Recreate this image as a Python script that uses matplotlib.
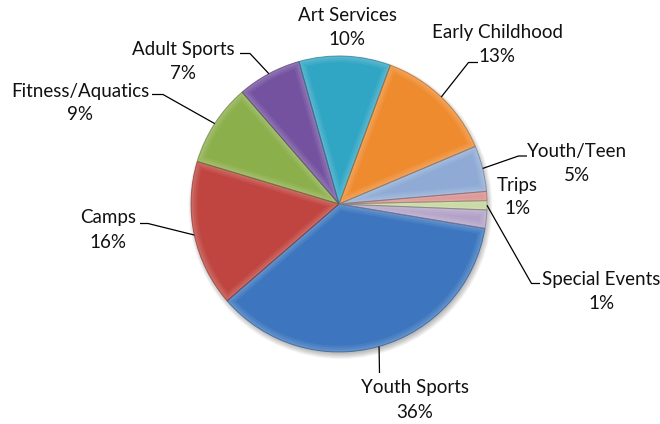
import numpy as np
import matplotlib
matplotlib.use("Agg")
import matplotlib.pyplot as plt
from matplotlib.patches import Wedge, Circle
from matplotlib.colors import to_rgb

# Program share of participants (%), clockwise from just below 3 o'clock
categories = ["Youth Sports", "Camps", "Fitness/Aquatics", "Adult Sports",
              "Art Services", "Early Childhood", "Youth/Teen", "Trips",
              "Special Events", "Other"]
shares = [36, 16, 9, 7, 10, 13, 5, 1, 1, 2]
show_label = [True, True, True, True, True, True, True, True, True, False]

colors = ["#3D76BE", "#C0443F", "#8BAF4B", "#7452A0", "#31A6C4",
          "#EF8B2F", "#8FABD5", "#DB8E8D", "#C3D79B", "#B3A2C7"]

W, H = 660, 424
CX, CY, R = 339, 204, 148
START = 99.5  # degrees clockwise from 12 o'clock


def px(x, y):
    # pixel (top-left origin) -> data coords
    return x, H - y


# label block centre and leader elbow points, in pixels
label_layout = {
    "Youth Sports": ((415, 400), [(379.5, 373)]),
    "Camps": ((108, 230), [(148, 223.5), (140, 223.5)]),
    "Fitness/Aquatics": ((80, 103), [(163, 94.5), (152, 94.5)]),
    "Adult Sports": ((183, 61.5), [(250, 53.5), (240, 53.5)]),
    "Art Services": ((347, 27.5), []),
    "Early Childhood": ((497, 44.5), [(468.5, 62.5), (478, 62.5)]),
    "Youth/Teen": ((576.5, 163.5), [(518.5, 156), (527, 156)]),
    "Trips": ((517.5, 197), []),
    "Special Events": ((601, 291.5), [(531.5, 283.5), (540, 283.5)]),
}

fig = plt.figure(figsize=(W / 100, H / 100), dpi=100)
ax = fig.add_axes([0, 0, 1, 1])

cx, cy = px(CX, CY)

# soft drop shadow under the pie
for i in range(8):
    ax.add_patch(Circle((cx + 1.5, cy - 3), R + 4 - i * 0.8,
                        facecolor="#000000", alpha=0.035, lw=0, zorder=1))

wedges, _ = ax.pie(shares, colors=colors, startangle=90 - START,
                   counterclock=False, center=(cx, cy), radius=R,
                   wedgeprops=dict(lw=0), frame=True)
ax.set_xlim(0, W)
ax.set_ylim(0, H)
ax.set_aspect("equal")
ax.axis("off")


def shade(c, f):
    r, g, b = to_rgb(c)
    if f > 0:
        return (r + (1 - r) * f, g + (1 - g) * f, b + (1 - b) * f)
    return (r * (1 + f), g * (1 + f), b * (1 + f))


# bevel: soft light rim on each wedge, darker seam at the boundary
for w, c in zip(wedges, colors):
    w.set_zorder(2)
    for lw, a in [(9, 0.12), (6, 0.15), (3, 0.2)]:
        rim = Wedge(w.center, w.r, w.theta1, w.theta2, facecolor="none",
                    edgecolor=shade(c, 0.5), lw=lw, alpha=a, zorder=3)
        ax.add_patch(rim)
        rim.set_clip_path(w)
    seam = Wedge(w.center, w.r, w.theta1, w.theta2, facecolor="none",
                 edgecolor=shade(c, -0.3), lw=0.7, alpha=0.6, zorder=4)
    ax.add_patch(seam)

text_kw = dict(ha="center", va="center", fontsize=13.5, color="#111111",
               family="Lato", linespacing=1.5, zorder=6)

total = sum(shares)
for name, val, w, show in zip(categories, shares, wedges, show_label):
    if not show:
        continue
    (tx, ty), elbow = label_layout[name]
    pct = round(100 * val / total)
    ax.text(*px(tx, ty), f"{name}\n{pct}%", **text_kw)
    if elbow:
        mid = np.deg2rad((w.theta1 + w.theta2) / 2)
        pts = [(cx + R * np.cos(mid), cy + R * np.sin(mid))]
        pts += [px(x, y) for x, y in elbow]
        xs, ys = zip(*pts)
        ax.plot(xs, ys, color="#000000", lw=0.9, zorder=5,
                solid_capstyle="butt")

fig.savefig("out.png", dpi=100)
